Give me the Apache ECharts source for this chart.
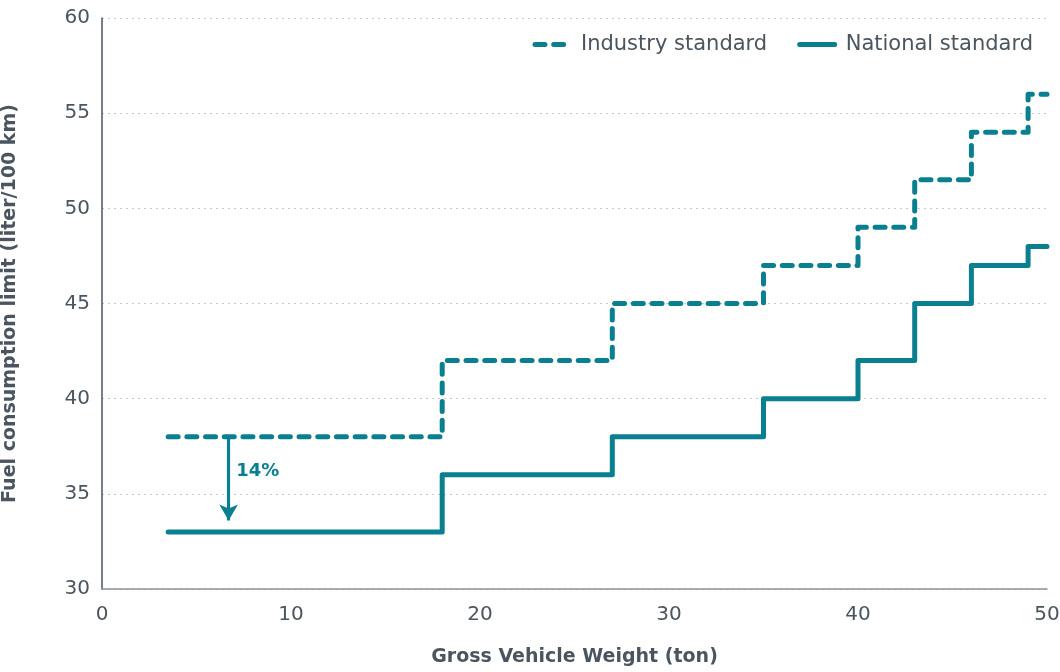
<!DOCTYPE html>
<html><head><meta charset="utf-8">
<script src="https://cdn.jsdelivr.net/npm/echarts@6/dist/echarts.min.js"></script>
<style>html,body{margin:0;padding:0;background:#fff}#c{width:1060px;height:672px}</style>
</head><body><div id="c"></div>
<script>
const weights = [3.5, 18, 27, 35, 40, 43, 46, 49, 50];
const industry = [38, 42, 45, 47, 49, 51.5, 54, 56, 56];
const national = [33, 36, 38, 40, 42, 45, 47, 48, 48];
const arrowX = 6.7, arrowFrom = 38, arrowTo = 33.6;
const annot = [[7.1, 36.2, '14%']];

const teal = '#0a7f8f';
const txt = '#4a5560';
const font = "'DejaVu Sans', sans-serif";
const dash = [10, 8.7];
const chart = echarts.init(document.getElementById('c'));
chart.setOption({
  animation: false,
  textStyle: {fontFamily: font},
  grid: {left: 102, right: 13, top: 18, bottom: 83, outerBoundsMode: 'none', containLabel: false},
  legend: {
    right: 22, top: 29, itemWidth: 35, itemHeight: 12, itemGap: 30,
    textStyle: {fontSize: 21, color: txt, fontFamily: font, padding: [0, 0, 0, 6]},
    itemStyle: {opacity: 0},
    lineStyle: {width: 5, cap: 'round'},
    data: [
      {name: 'Industry standard', lineStyle: {width: 5, type: dash, cap: 'round'}},
      {name: 'National standard', lineStyle: {width: 5, type: 'solid', cap: 'round'}}
    ]
  },
  xAxis: {
    type: 'value', min: 0, max: 50, interval: 10,
    axisLine: {lineStyle: {color: '#8a9299', width: 1.5}},
    axisTick: {show: false},
    splitLine: {show: false},
    axisLabel: {fontSize: 20, color: txt, margin: 16},
    name: 'Gross Vehicle Weight (ton)', nameLocation: 'middle', nameGap: 59,
    nameTextStyle: {fontSize: 19, color: txt, fontWeight: 'bold'}
  },
  yAxis: {
    type: 'value', min: 30, max: 60, interval: 5,
    axisLine: {show: true, lineStyle: {color: '#4a5560', width: 1.5}},
    axisTick: {show: false},
    splitLine: {lineStyle: {color: '#c8c8c8', type: [2, 4]}},
    axisLabel: {fontSize: 20, color: txt, margin: 12},
    name: 'Fuel consumption limit (liter/100 km)', nameLocation: 'middle', nameGap: 82,
    nameTextStyle: {fontSize: 19, color: txt, fontWeight: 'bold'}
  },
  series: [
    {
      name: 'Industry standard', type: 'line', step: 'end', symbol: 'none',
      data: weights.map((w, i) => [w, industry[i]]),
      lineStyle: {color: teal, width: 5, type: dash, cap: 'round', join: 'round'},
      itemStyle: {color: teal},
      markLine: {
        silent: true, symbol: ['none', 'arrow'], symbolSize: [14, 16],
        lineStyle: {color: teal, width: 3.2, type: 'solid'},
        label: {show: false},
        data: [[{coord: [arrowX, arrowFrom]}, {coord: [arrowX, arrowTo]}]]
      }
    },
    {
      name: 'National standard', type: 'line', step: 'end', symbol: 'none',
      data: weights.map((w, i) => [w, national[i]]),
      lineStyle: {color: teal, width: 5, cap: 'round', join: 'round'},
      itemStyle: {color: teal}
    },
    {
      type: 'scatter', symbolSize: 0, silent: true,
      itemStyle: {opacity: 1, color: teal},
      data: annot.map(a => [a[0], a[1]]),
      label: {show: true, position: 'right', distance: 0, formatter: p => annot[p.dataIndex][2],
        color: teal, fontSize: 18, fontWeight: 'bold', fontFamily: font, opacity: 1}
    }
  ]
});
</script></body></html>
